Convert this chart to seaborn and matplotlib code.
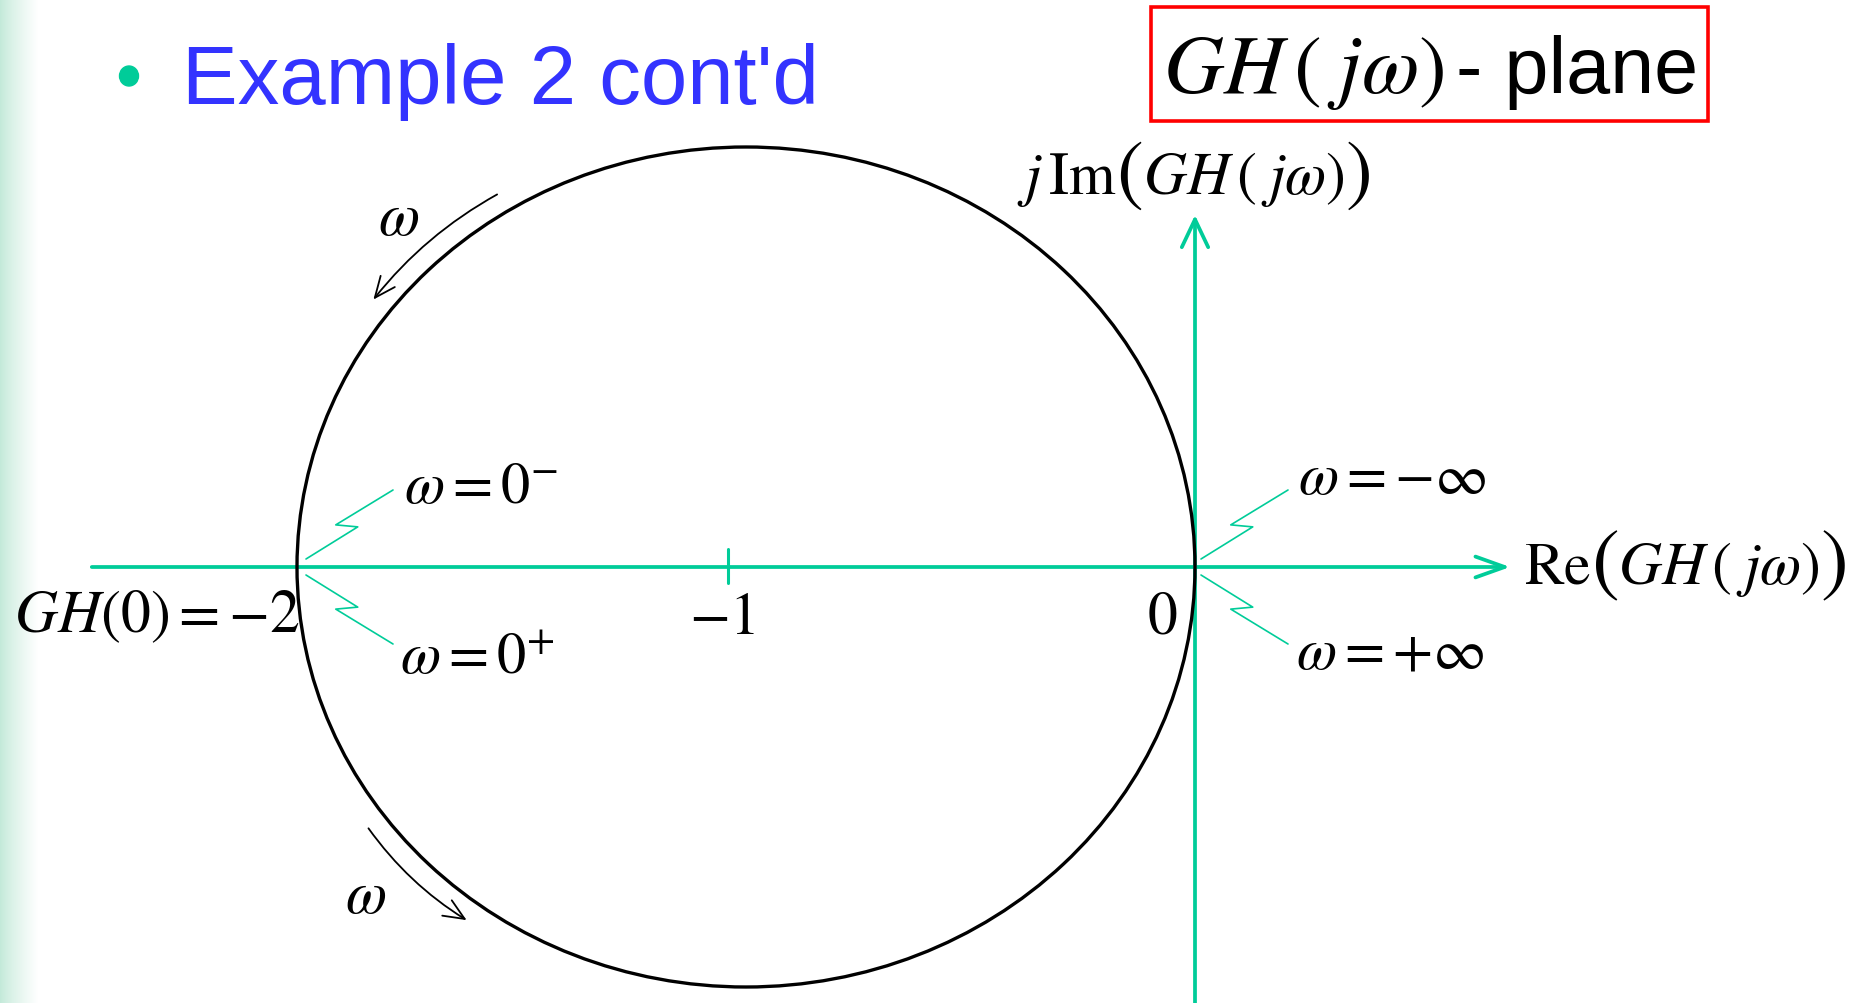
import numpy as np
import pandas as pd
import matplotlib.pyplot as plt
import seaborn as sns
from matplotlib.patches import Circle, FancyArrowPatch, Rectangle, Ellipse

sns.set_theme(style="white")
plt.rcParams['font.family'] = ['Liberation Sans', 'DejaVu Sans']
plt.rcParams['mathtext.fontset'] = 'stix'

W, H = 1864, 1004
GREEN = '#00CC99'

# Nyquist locus of GH(jw): circle from GH(0) = -2 to GH(inf) = 0
gh_zero = -2.0
gh_inf = 0.0
tick_pos = [-1.04]            # the "-1" tick as drawn on the slide
tick_labels = [r"$-1$"]
re_axis = [-2.457, 0.702]
im_axis = [-1.1, 0.838]
# direction-of-omega arrows (degrees along the locus)
arrow_top = [122.0, 142.5]
arrow_bottom = [216.5, 233.5]
point_labels = [r"$\omega = 0^{-}$", r"$\omega = 0^{+}$",
                r"$\omega = -\infty$", r"$\omega = +\infty$"]
point_anchor = [gh_zero, gh_zero, gh_inf, gh_inf]
point_side = [1, -1, 1, -1]   # above / below the real axis

# pixel layout of the slide
X0, XS, Y0, YS = 1195, 449, 568, 420


def to_px(x, y):
    return X0 + XS * x, Y0 - YS * y


def to_data(px, py):
    return (px - X0) / XS, (Y0 - py) / YS


fig = plt.figure(figsize=(W / 100, H / 100), dpi=100)
renderer = fig.canvas.get_renderer()

# faint green band on the left edge of the slide
bg = fig.add_axes([0, 0, 38 / W, 1], zorder=-5)
grad = np.linspace(0, 1, 256)[None, :] ** 0.8
cmap = sns.blend_palette(['#C2E9D8', '#FFFFFF'], as_cmap=True)
bg.imshow(grad, aspect='auto', cmap=cmap, extent=[0, 1, 0, 1])
bg.axis('off')

ax = fig.add_axes([0, 0, 1, 1])
ax.set_facecolor('none')
ax.set_xlim(-X0 / XS, (W - X0) / XS)
ax.set_ylim((Y0 - H) / YS, Y0 / YS)
ax.axis('off')

# axes with open arrow heads
ax.add_patch(FancyArrowPatch((re_axis[0], 0), (re_axis[1], 0),
                             arrowstyle='->,head_length=2.1,head_width=0.75',
                             mutation_scale=10, lw=2.7, color=GREEN,
                             shrinkA=0, shrinkB=0, zorder=2))
ax.add_patch(FancyArrowPatch((0, im_axis[0]), (0, im_axis[1]),
                             arrowstyle='->,head_length=2.0,head_width=0.95',
                             mutation_scale=10, lw=2.7, color=GREEN,
                             shrinkA=0, shrinkB=0, zorder=2))

# tick at -1
tk = pd.DataFrame({'x': tick_pos * 2, 'y': [-0.038, 0.043]})
sns.lineplot(data=tk, x='x', y='y', color=GREEN, lw=2.2, sort=False,
             estimator=None, ax=ax)

# the locus
center = (gh_zero + gh_inf) / 2
radius = abs(gh_zero - gh_inf) / 2
ax.add_patch(Circle((center, 0), radius, fill=False, ec='black', lw=2.4, zorder=3))

# omega direction arrows, drawn just outside the locus
for a0, a1 in (arrow_top, arrow_bottom):
    r = radius * 1.046
    p0 = (center + r * np.cos(np.radians(a0)), r * np.sin(np.radians(a0)))
    p1 = (center + r * np.cos(np.radians(a1)), r * np.sin(np.radians(a1)))
    ax.add_patch(FancyArrowPatch(p0, p1, connectionstyle='arc3,rad=0.1',
                                 arrowstyle='->,head_length=1.5,head_width=0.65',
                                 mutation_scale=10, lw=1.3, color='black',
                                 shrinkA=0, shrinkB=0, zorder=3))

# lightning-bolt leaders from the labels to the crossings
for anchor, side in zip(point_anchor, point_side):
    ax_px, ay_px = to_px(anchor, 0)
    ax_px += 9 if anchor == gh_zero else 6
    start = np.array([ax_px + 87, ay_px - side * 77])
    end = np.array([ax_px, ay_px - side * 8])
    mid = start + 0.52 * (end - start)
    pts = [start, mid - [12, 1 * side], mid + [10, 1 * side], end]
    d = pd.DataFrame([to_data(*p) for p in pts], columns=['x', 'y'])
    sns.lineplot(data=d, x='x', y='y', color=GREEN, lw=1.2, sort=False,
                 estimator=None, ax=ax)

if ax.get_legend():
    ax.get_legend().remove()


def ftext(px, py, s, **kw):
    kw.setdefault('va', 'baseline')
    kw.setdefault('ha', 'left')
    kw.setdefault('fontsize', 43)
    kw.setdefault('color', 'black')
    return fig.text(px / W, 1 - py / H, s, **kw)


def chain(px, py, parts, gap=0):
    # lay text pieces one after another (used for the big outer parentheses)
    x = px
    for s, size, dy in parts:
        t = ftext(x, py + dy, s, fontsize=size)
        bb = t.get_window_extent(renderer)
        x = bb.x1 + gap


# labels
ftext(14, 632, r"$GH(0) = -2$")
ftext(722, 634, tick_labels[0], ha='center')
ftext(1162, 633, r"$0$", ha='center')
label_xy = [(404, 503), (400, 674), (1298, 494), (1296, 669)]
for (lx, ly), s in zip(label_xy, point_labels):
    ftext(lx, ly, s, fontsize=42)
inner = r"$GH\,(\;j\omega)$"
chain(1524, 584, [(r"$\mathrm{Re}$", 43, 0), (r"$($", 60, 2), (inner, 43, 0), (r"$)$", 60, 2)])
chain(1017, 194, [(r"$j\,\mathrm{Im}$", 43, 0), (r"$($", 58, 2), (inner, 43, 0), (r"$)$", 58, 2)])
ftext(378, 235, r"$\omega$")
ftext(345, 913, r"$\omega$")

# slide title
fig.add_artist(Ellipse((129 / W, 1 - 77 / H), 19 / W, 20 / H,
                       transform=fig.transFigure, color=GREEN))
ftext(182, 104, "Example 2 cont'd", fontsize=60, color='#3333FF')

# plane box
fig.add_artist(Rectangle((1151 / W, 1 - 122 / H), 557 / W, 114 / H,
                         transform=fig.transFigure, fill=False,
                         ec='#FF0000', lw=2.6))
ftext(1163, 93, r"$GH\,(\;j\omega)$", fontsize=60)
ftext(1456, 93, "- plane", fontsize=57)

fig.savefig('out.png', dpi=100)
